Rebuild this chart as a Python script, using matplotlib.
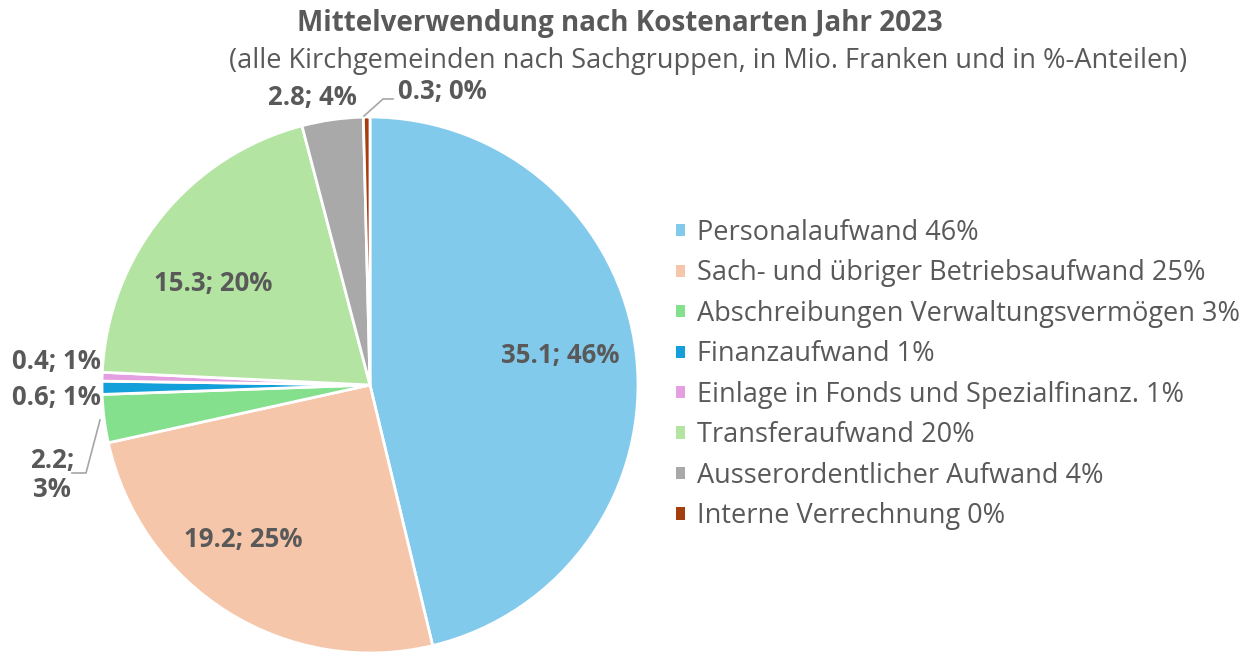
import matplotlib
matplotlib.use("Agg")
import matplotlib.pyplot as plt
from matplotlib.patches import Patch

plt.rcParams['font.family'] = ['Open Sans', 'DejaVu Sans']

# Daten (Mio. Franken)
categories = ['Personalaufwand', 'Sach- und übriger Betriebsaufwand',
              'Abschreibungen Verwaltungsvermögen', 'Finanzaufwand',
              'Einlage in Fonds und Spezialfinanz.', 'Transferaufwand',
              'Ausserordentlicher Aufwand', 'Interne Verrechnung']
values = [35.1, 19.2, 2.2, 0.6, 0.4, 15.3, 2.8, 0.3]
percents = [46, 25, 3, 1, 1, 20, 4, 0]
colors = ['#82CAEB', '#F5C6AA', '#85E08E', '#139FD9',
          '#E49FE0', '#B3E4A2', '#A9A9A9', '#A33E0E']

TXT = '#595959'

fig = plt.figure(figsize=(12.49, 6.52), dpi=100)
ax = fig.add_axes([102 / 1249, -1 / 652, 536 / 1249, 536 / 652])

wedges, _ = ax.pie(values, colors=colors, startangle=90, counterclock=False,
                   radius=1.0, wedgeprops=dict(edgecolor='white', linewidth=2))
ax.set_xlim(-1, 1)
ax.set_ylim(-1, 1)
ax.set_aspect('equal')
ax.axis('off')


def px(x, y):
    # Pixelposition im Bild -> Achsenkoordinaten der Torte
    return ((x - 370) / 268, (385 - y) / 268)


# Position der Datenbeschriftungen (Pixel im Bild)
label_pos = [(560, 356), (243, 540), (52, 475), (56, 397),
             (56, 362), (213, 283), (312, 98), (442, 92)]

lbl_font = dict(fontsize=18.5, fontweight='bold', color=TXT,
                ha='center', va='center', clip_on=False)
for i, (x, y) in enumerate(label_pos):
    sep = ';\n' if i == 2 else '; '
    ax.text(*px(x, y), f'{values[i]}{sep}{percents[i]}%', linespacing=1.05, **lbl_font)

# Führungslinien
l1 = [px(364, 116), px(383, 99), px(393, 99)]
ax.plot([p[0] for p in l1], [p[1] for p in l1], color='#A6A6A6', lw=1.2, clip_on=False)
l2 = [px(100, 420), px(86, 473), px(72, 473)]
ax.plot([p[0] for p in l2], [p[1] for p in l2], color='#A6A6A6', lw=1.2, clip_on=False)

# Titel
fig.text(620 / 1249, 1 - 24 / 652, 'Mittelverwendung nach Kostenarten Jahr 2023',
         fontsize=20, fontweight='bold', color=TXT, ha='center', va='center')
fig.text(708 / 1249, 1 - 61 / 652,
         '(alle Kirchgemeinden nach Sachgruppen, in Mio. Franken und in %-Anteilen)',
         fontsize=19.5, color=TXT, ha='center', va='center')

# Legende
handles = [Patch(facecolor=c, edgecolor='none') for c in colors]
labels = [f'{c} {p}%' for c, p in zip(categories, percents)]
leg = fig.legend(handles, labels, loc='upper left',
                 bbox_to_anchor=(676 / 1249, 1 - 219 / 652),
                 frameon=False, fontsize=19.5, labelcolor=TXT,
                 handlelength=0.32, handleheight=0.32, handletextpad=0.45,
                 labelspacing=0.46, borderaxespad=0, borderpad=0)

fig.savefig('out.png', dpi=100, facecolor='white')
